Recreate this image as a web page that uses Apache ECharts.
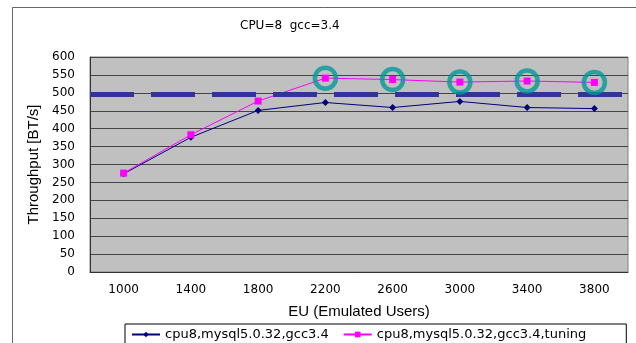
<!DOCTYPE html>
<html lang="en">
<head>
    <meta charset="UTF-8">
    <title>CPU=8 gcc=3.4</title>
    <style>
        * { margin: 0; padding: 0; }
        body { background: #fff; }
        #chart-container { width: 636px; height: 343px; }
    </style>
</head>
<body>
    <div id="chart-container"></div>
    <script src="https://cdn.jsdelivr.net/npm/echarts@6.0.0/dist/echarts.min.js"></script>
    <script>
        // data
        var users = ['1000', '1400', '1800', '2200', '2600', '3000', '3400', '3800'];
        var baseline = [274, 376, 451, 473, 459, 476, 459, 456];
        var tuned = [276, 383, 477, 541, 537, 530, 533, 529];
        // points circled in the original (2200 .. 3800 of the tuned run)
        var circled = [null, null, null, 541, 537, 530, 533, 529];
        var target = 497;
        var yTicks = { min: 0, max: 600, interval: 50 };

        var dom = document.getElementById('chart-container');
        var myChart = echarts.init(dom, null, { renderer: 'canvas' });
        var wide = 'DejaVu Sans';
        var plain = 'Liberation Sans';

        var option = {
            animation: false,
            title: {
                text: 'CPU=8  gcc=3.4',
                left: 235,
                top: 15,
                textStyle: { fontFamily: wide, fontSize: 12, fontWeight: 'normal', color: '#000' }
            },
            graphic: [{
                type: 'rect',
                shape: { x: 12.5, y: 7.5, width: 700, height: 400 },
                style: { fill: 'none', stroke: '#666', lineWidth: 1 },
                silent: true
            }],
            legend: {
                left: 125,
                top: 324,
                padding: [4, 40, 10, 6],
                itemGap: 14,
                itemWidth: 28,
                itemHeight: 7,
                borderColor: '#000',
                borderWidth: 1,
                borderRadius: 0,
                textStyle: { fontFamily: wide, fontSize: 13, color: '#000' },
                data: ['cpu8,mysql5.0.32,gcc3.4', 'cpu8,mysql5.0.32,gcc3.4,tuning']
            },
            grid: { left: 90, top: 57, right: 8, bottom: 71, backgroundColor: '#c0c0c0', show: true, borderColor: '#808080', borderWidth: 1 },
            xAxis: {
                type: 'category',
                data: users,
                name: 'EU (Emulated Users)',
                nameLocation: 'middle',
                nameGap: 32,
                nameTextStyle: { fontFamily: plain, fontSize: 15, color: '#000' },
                axisLine: { lineStyle: { color: '#333' } },
                axisTick: { inside: true, length: 4, lineStyle: { color: '#333' } },
                axisLabel: { fontFamily: wide, fontSize: 12, color: '#000', margin: 12 }
            },
            yAxis: {
                type: 'value',
                min: yTicks.min,
                max: yTicks.max,
                interval: yTicks.interval,
                name: 'Throughput [BT/s]',
                nameLocation: 'middle',
                nameGap: 46,
                nameTextStyle: { fontFamily: plain, fontSize: 15, color: '#000' },
                axisLine: { show: true, lineStyle: { color: '#333' } },
                axisTick: { show: false },
                axisLabel: { fontFamily: wide, fontSize: 12, color: '#000', margin: 15 },
                splitLine: { lineStyle: { color: '#444', width: 1 } }
            },
            series: [
                {
                    name: 'cpu8,mysql5.0.32,gcc3.4',
                    type: 'line',
                    data: baseline,
                    symbol: 'diamond',
                    symbolSize: 7,
                    color: '#000080',
                    lineStyle: { width: 1, color: '#000080' },
                    itemStyle: { color: '#000080' },
                    markLine: {
                        silent: true,
                        symbol: 'none',
                        label: { show: false },
                        lineStyle: { color: '#333399', width: 5, type: [44, 17] },
                        data: [{ yAxis: target }]
                    }
                },
                {
                    name: 'cpu8,mysql5.0.32,gcc3.4,tuning',
                    type: 'line',
                    data: tuned,
                    symbol: 'rect',
                    symbolSize: 7,
                    color: '#ff00ff',
                    lineStyle: { width: 1, color: '#ff00ff' },
                    itemStyle: { color: '#ff00ff' }
                },
                {
                    name: 'circled',
                    type: 'scatter',
                    data: circled,
                    symbol: 'circle',
                    symbolSize: 21,
                    itemStyle: { color: 'rgba(0,0,0,0)', borderColor: '#009999', borderWidth: 4.5 },
                    z: 5
                }
            ]
        };

        myChart.setOption(option);
        window.addEventListener('resize', myChart.resize);
    </script>
</body>
</html>
